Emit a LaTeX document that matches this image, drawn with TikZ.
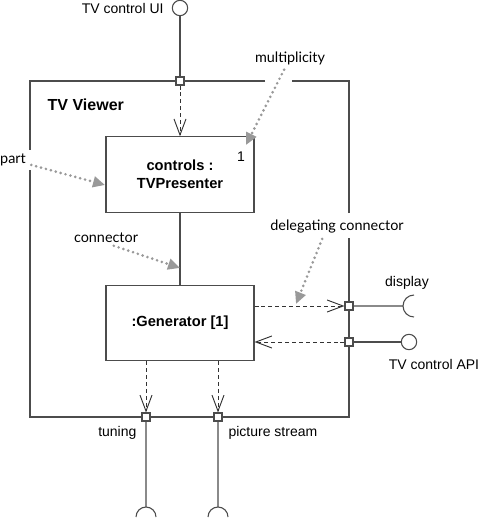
\documentclass[tikz,border=0pt]{standalone}
\usepackage{fontspec}
\setmainfont{Liberation Sans}
\newfontfamily\notefont{Lato}
\usetikzlibrary{arrows.meta,positioning}

\begin{document}
\begin{tikzpicture}[x=0.75pt,y=-0.75pt]
        \tikzstyle{part}=[rectangle, draw=black!70, line width=0.8pt, minimum width=111pt, minimum height=56.5pt, align=center, font=\fontsize{11}{13.5}\selectfont\bfseries]
        \tikzstyle{port}=[rectangle, draw=black!70, fill=white, line width=0.8pt, inner sep=0pt, minimum size=6pt]
        \tikzstyle{ball}=[circle, draw=black!70, line width=0.8pt, inner sep=0pt, minimum size=11.5pt]
        \tikzstyle{wire}=[draw=black!70, line width=0.8pt]
        \tikzstyle{dep}=[draw=black!80, line width=0.7pt, dash pattern=on 3pt off 2.2pt, -{Straight Barb[length=12pt,width=9pt]}]
        \tikzstyle{lbl}=[inner sep=1pt, font=\fontsize{10.5}{12}\selectfont]
        \tikzstyle{note}=[inner sep=1pt, font=\notefont\fontsize{10.8}{12}\selectfont]
        \tikzstyle{hint}=[draw=black!40, line width=2.2pt, line cap=round, dash pattern=on 0pt off 3.8pt, -{Triangle[length=9pt,width=8pt,fill=black!40]}, shorten <=3pt]
        \useasboundingbox (0,0) rectangle (483,528);
        % frame of TV Viewer, open where the notes cross it
        \draw[wire] (265,81) -- (30,81) -- (30,150);
        \draw[wire] (30,170) -- (30,417) -- (349,417) -- (349,238);
        \draw[wire] (349,213) -- (349,81) -- (292,81);
        \node[anchor=west, font=\fontsize{12}{14}\selectfont\bfseries] (title) at (43,105) {TV Viewer};
        % parts
        \node[part] (ctrl) at (180,174.5) {controls :\\TVPresenter};
        \node[part] (gen) at (180,323) {:Generator [1]};
        \node[lbl] (mult) at (241,157) {1};
        % ports
        \node[port] (pUI) at (180,81) {};
        \node[port] (pDisp) at (349,306) {};
        \node[port] (pApi) at (349,342) {};
        \node[port] (pTun) at (146,417) {};
        \node[port] (pPic) at (218,417) {};
        % provided / required interfaces
        \node[ball] (uiBall) at (180,8) {};
        \node[ball] (apiBall) at (409,342) {};
        \coordinate (sockDisp) at (403,306);
        \coordinate (sockTun) at (146,507);
        \coordinate (sockPic) at (218,507);
        \node[lbl, left=5pt of uiBall] (uiLbl) {TV control UI};
        \node[lbl] (dispLbl) at (407,283) {display};
        \node[lbl] (apiLbl) at (434,364) {TV control API};
        \node[lbl, anchor=east] (tunLbl) at (138,433) {tuning};
        \node[lbl, anchor=west] (picLbl) at (227,433) {picture stream};
        % connectors
        \draw[wire] (uiBall) -- (pUI);
        \draw[wire] (ctrl) -- (gen);
        \draw[wire] (pApi) -- (apiBall);
        \draw[wire] (pDisp) -- (sockDisp) arc[start angle=180, end angle=90, radius=11]
            (sockDisp) arc[start angle=180, end angle=270, radius=11];
        \foreach \p in {Tun,Pic}
            \draw[wire] (p\p) -- (sock\p) arc[start angle=270, end angle=180, radius=10]
                (sock\p) arc[start angle=270, end angle=360, radius=10];
        \draw[dep] (pUI) -- (ctrl);
        \draw[dep] (gen.east |- pDisp) -- (pDisp);
        \draw[dep] (pApi) -- (gen.east |- pApi);
        \foreach \p in {Tun,Pic}
            \draw[dep] (gen.south -| p\p) -- (p\p);
        % notes
        \node[note] (multNote) at (290,58) {multiplicity};
        \node[note] (partNote) at (13,160) {part};
        \node[note] (connNote) at (106,238) {connector};
        \node[note] (delNote) at (337,227) {delegating connector};
        \coordinate (multTip) at (246,145);
        \coordinate (partTip) at (105,185);
        \coordinate (connTip) at (180,268);
        \coordinate (delTip) at (296,304);
        \draw[hint] (multNote) -- (multTip);
        \draw[hint] (partNote) -- (partTip);
        \draw[hint] ([xshift=3pt]connNote.south) -- (connTip);
        \draw[hint] ([xshift=-10pt]delNote.south) -- (delTip);
\end{tikzpicture}
\end{document}
